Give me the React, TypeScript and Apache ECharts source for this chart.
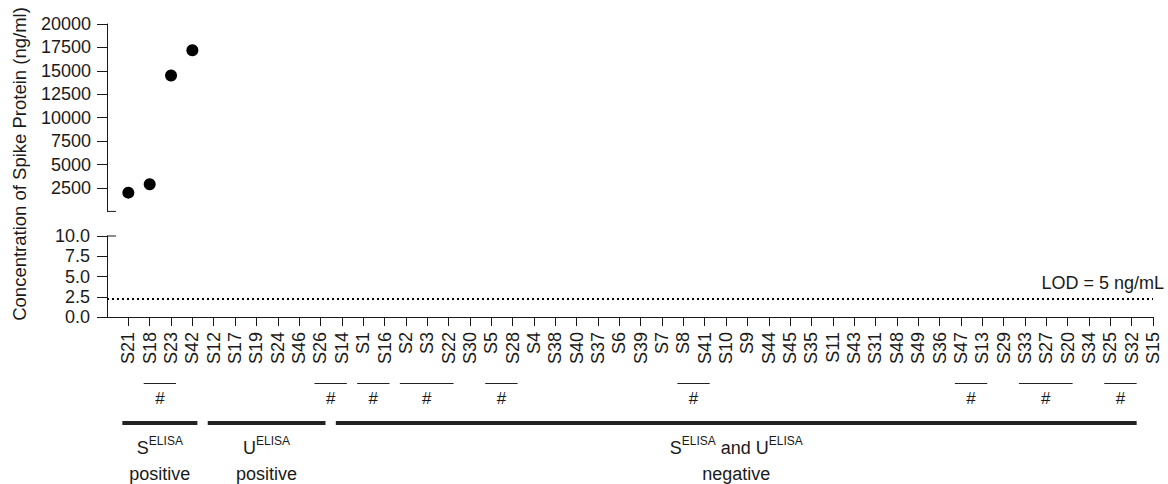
import React, { useEffect, useRef } from 'react';
import * as echarts from 'echarts';

const samples = [
  'S21', 'S18', 'S23', 'S42', 'S12', 'S17', 'S19', 'S24', 'S46', 'S26',
  'S14', 'S1', 'S16', 'S2', 'S3', 'S22', 'S30', 'S5', 'S28', 'S4',
  'S38', 'S40', 'S37', 'S6', 'S39', 'S7', 'S8', 'S41', 'S10', 'S9',
  'S44', 'S45', 'S35', 'S11', 'S43', 'S31', 'S48', 'S49', 'S36', 'S47',
  'S13', 'S29', 'S33', 'S27', 'S20', 'S34', 'S25', 'S32', 'S15',
];
const detectedSamples = ['S21', 'S18', 'S23', 'S42'];
const detectedValues = [2000, 2900, 14500, 17200];
const upperTicks = [2500, 5000, 7500, 10000, 12500, 15000, 17500, 20000];
const lowerTicks = [0, 2.5, 5, 7.5, 10];
const lodValue = 2.3;
const lodLabel = 'LOD = 5 ng/mL';
const yTitle = 'Concentration of Spike Protein (ng/ml)';
const hashGroups = [
  ['S18', 'S23'], ['S26', 'S14'], ['S1', 'S16'], ['S2', 'S22'], ['S5', 'S28'],
  ['S8', 'S41'], ['S47', 'S13'], ['S33', 'S20'], ['S25', 'S32'],
];
const phenotypeFrom = ['S21', 'S12', 'S14'];
const phenotypeTo = ['S42', 'S26', 'S32'];
const phenotypeLabels = [
  '{b|S}{sup|ELISA}\n{b|positive}',
  '{b|U}{sup|ELISA}\n{b|positive}',
  '{b|S}{sup|ELISA}{b| and U}{sup|ELISA}\n{b|negative}',
];

const FONT = '"Liberation Sans", Arial, Helvetica, sans-serif';
const INK = '#1a1a1a';

export default function App() {
  const ref = useRef<HTMLDivElement>(null);
  useEffect(() => {
    if (!ref.current) return;
    const chart = echarts.init(ref.current, undefined, { renderer: 'svg' });
    const cats = ['', ...samples];
    const catIndex = (s: string) => cats.indexOf(s);
    chart.setOption({
      animation: false,
      grid: [
        { left: 107, right: 15, top: 24, height: 187.4 },
        { left: 107, right: 15, top: 236, height: 81 },
      ],
      xAxis: [
        { type: 'category', gridIndex: 0, data: cats, boundaryGap: false, show: false },
        {
          type: 'category', gridIndex: 1, data: cats, boundaryGap: false,
          axisLine: { lineStyle: { color: INK, width: 1 } },
          axisTick: { length: 9, interval: (i: number) => i > 0, lineStyle: { color: INK } },
          axisLabel: { interval: 0, rotate: 90, margin: 15, fontSize: 18, color: INK, fontFamily: FONT },
          splitLine: { show: false },
        },
      ],
      yAxis: [
        {
          type: 'value', gridIndex: 0, min: 0, max: 20000, interval: 2500,
          axisLine: { show: true, lineStyle: { color: INK } },
          axisTick: { show: true, length: 10, customValues: upperTicks, lineStyle: { color: INK } },
          axisLabel: {
            customValues: upperTicks, margin: 16, fontSize: 18, color: INK, fontFamily: FONT,
            formatter: (v: number) => String(v),
          },
          splitLine: { show: false },
        },
        {
          type: 'value', gridIndex: 1, min: 0, max: 10, interval: 2.5,
          axisLine: { show: true, lineStyle: { color: INK } },
          axisTick: { show: true, length: 10, customValues: lowerTicks, lineStyle: { color: INK } },
          axisLabel: {
            customValues: lowerTicks, margin: 17, fontSize: 18, color: INK, fontFamily: FONT,
            formatter: (v: number) => v.toFixed(1),
          },
          splitLine: { show: false },
        },
      ],
      series: [
        {
          type: 'scatter', xAxisIndex: 0, yAxisIndex: 0, symbolSize: 12,
          itemStyle: { color: '#000', opacity: 1 },
          data: detectedSamples.map((s, i) => [catIndex(s), detectedValues[i]]),
        },
        {
          type: 'scatter', xAxisIndex: 1, yAxisIndex: 1, data: [],
          markLine: {
            symbol: 'none', silent: true,
            label: { show: false },
            lineStyle: { type: [2, 3], width: 2, color: '#000' },
            data: [{ yAxis: lodValue }],
          },
        },
      ],
    });

    const xPx = (s: string) => chart.convertToPixel({ xAxisIndex: 1 }, catIndex(s)) as number;
    const yTop0 = chart.convertToPixel({ yAxisIndex: 0 }, 0) as number;
    const yBot10 = chart.convertToPixel({ yAxisIndex: 1 }, 10) as number;
    const axisY = chart.convertToPixel({ yAxisIndex: 1 }, 0) as number;
    const axisX = chart.convertToPixel({ xAxisIndex: 1 }, 0) as number;
    const lodY = chart.convertToPixel({ yAxisIndex: 1 }, lodValue) as number;
    const lastX = xPx(samples[samples.length - 1]);
    const hashLineY = Math.round(axisY + 66) + 0.5;

    const graphics: any[] = [];
    graphics.push({
      type: 'text', x: 19, y: 164, rotation: Math.PI / 2,
      style: { text: yTitle, fontSize: 18.5, fontFamily: FONT, fill: INK, align: 'center', verticalAlign: 'middle' },
    });
    graphics.push({ type: 'line', shape: { x1: axisX, y1: yTop0, x2: axisX + 9, y2: yTop0 }, style: { stroke: INK, lineWidth: 1 } });
    graphics.push({ type: 'line', shape: { x1: axisX, y1: yBot10, x2: axisX + 9, y2: yBot10 }, style: { stroke: INK, lineWidth: 1 } });
    graphics.push({
      type: 'text', x: lastX + 11, y: lodY - 15,
      style: { text: lodLabel, fontSize: 18, fontFamily: FONT, fill: INK, align: 'right', verticalAlign: 'middle' },
    });
    hashGroups.forEach(([a, b]) => {
      const x1 = xPx(a) - 6;
      const x2 = xPx(b) + 5;
      graphics.push({ type: 'line', shape: { x1, y1: hashLineY, x2, y2: hashLineY }, style: { stroke: '#222', lineWidth: 1 } });
      graphics.push({
        type: 'text', x: (x1 + x2) / 2, y: axisY + 81,
        style: { text: '#', fontSize: 17, fontFamily: FONT, fill: INK, align: 'center', verticalAlign: 'middle' },
      });
    });
    phenotypeFrom.forEach((a, i) => {
      const x1 = xPx(a) - 6;
      const x2 = xPx(phenotypeTo[i]) + 5;
      graphics.push({ type: 'line', shape: { x1, y1: axisY + 106, x2, y2: axisY + 106 }, style: { stroke: '#222', lineWidth: 4 } });
      graphics.push({
        type: 'text', x: (x1 + x2) / 2, y: axisY + 118,
        style: {
          text: phenotypeLabels[i], fontFamily: FONT, fill: INK, align: 'center', verticalAlign: 'top',
          rich: {
            b: { fontSize: 18, lineHeight: 26, fontFamily: FONT, fill: INK },
            sup: { fontSize: 12, lineHeight: 22, verticalAlign: 'top', fontFamily: FONT, fill: INK },
          },
        },
      });
    });
    chart.setOption({ graphic: graphics });
    return () => chart.dispose();
  }, []);
  return (
    <div
      ref={ref}
      style={{ position: 'fixed', left: 0, top: 0, width: 1168, height: 484, background: '#fff' }}
    />
  );
}
